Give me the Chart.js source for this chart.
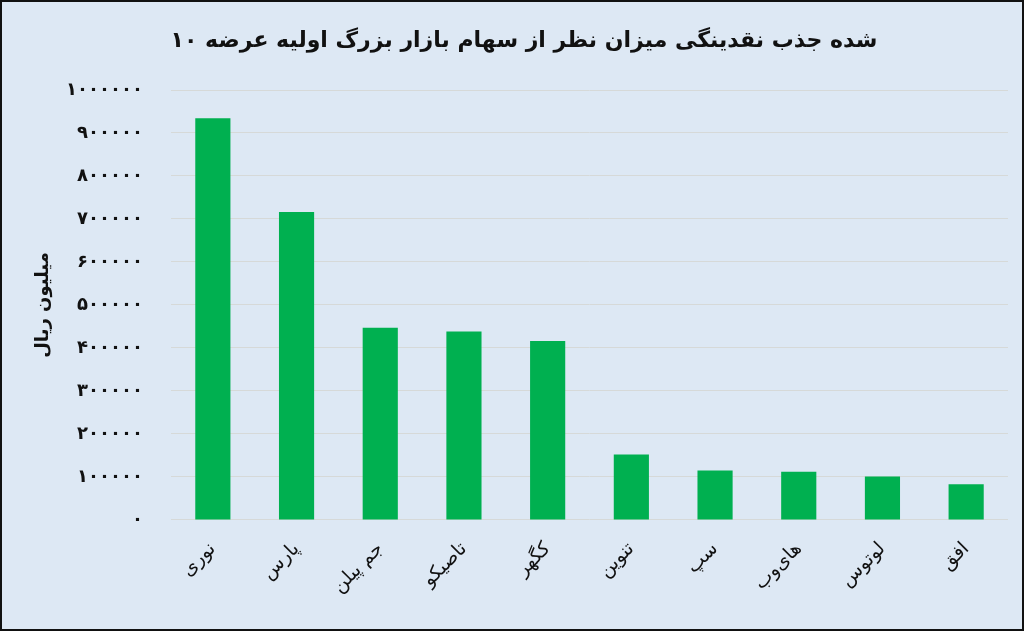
<!DOCTYPE html>
<html>
<head>
  <meta charset="utf-8">
  <title>۱۰ عرضه اولیه بزرگ</title>
  <script src="https://cdn.jsdelivr.net/npm/chart.js"></script>
<style>
html, body {
  margin: 0;
  padding: 0;
  background: #fff;
}
.frame {
  width: 1024px;
  height: 631px;
  box-sizing: border-box;
  border: 2px solid #111;
  background-color: #dde8f4;
  position: relative;
}
.chart-title {
  position: absolute;
  top: 22px;
  left: 24px;
  right: 0;
  text-align: center;
  font-family: 'DejaVu Sans', sans-serif;
  font-size: 22px;
  font-weight: bold;
  line-height: 32px;
  color: #111;
}
canvas {
  position: absolute;
  left: 0;
  top: 0;
}
</style>
</head>
<body>
<div class="frame">
  <canvas id="iposChart" width="1020" height="627"></canvas>
  <div class="chart-title" id="chartTitle" dir="ltr"></div>
</div>

<script>
// data (million rials)
const symbols = ['نوری', 'پارس', 'جم پیلن', 'تاصیکو', 'کگهر', 'تنوین', 'سپ', 'های‌وب', 'لوتوس', 'افق'];
const liquidity = [934000, 716000, 447000, 438000, 416000, 152000, 115000, 112000, 101000, 83000];
const yTicks = [0, 100000, 200000, 300000, 400000, 500000, 600000, 700000, 800000, 900000, 1000000];

// title words are laid out left to right in the original
const titleWords = ['۱۰', 'عرضه', 'اولیه', 'بزرگ', 'بازار', 'سهام', 'از', 'نظر', 'میزان', 'نقدینگی', 'جذب', 'شده'];
const axisTitle = 'میلیون ریال';

const faDigits = '۰۱۲۳۴۵۶۷۸۹';
function toFa(n) {
  return String(n).replace(/\d/g, d => faDigits[d]);
}

// each word isolated so they run left to right like the picture
const titleEl = document.getElementById('chartTitle');
titleWords.forEach((w, i) => {
  const b = document.createElement('bdi');
  b.textContent = w;
  titleEl.appendChild(b);
  if (i < titleWords.length - 1) titleEl.appendChild(document.createTextNode(' '));
});

const ctx = document.getElementById('iposChart');
new Chart(ctx, {
  type: 'bar',
  data: {
    labels: symbols,
    datasets: [{
      data: liquidity,
      backgroundColor: '#00b050',
      borderWidth: 0,
      barPercentage: 0.84,
      categoryPercentage: 0.5
    }]
  },
  options: {
    responsive: false,
    animation: false,
    layout: {
      padding: { left: 27, right: 14, top: 88, bottom: 21 }
    },
    plugins: {
      legend: { display: false },
      tooltip: { enabled: false },
      title: { display: false }
    },
    scales: {
      x: {
        grid: { display: false },
        border: { display: false },
        ticks: {
          color: '#111',
          maxRotation: 45,
          minRotation: 45,
          padding: 10,
          font: { family: 'DejaVu Sans', size: 19 }
        }
      },
      y: {
        min: 0,
        max: 1000000,
        afterBuildTicks: axis => {
          axis.ticks = yTicks.map(v => ({ value: v }));
        },
        afterFit: axis => {
          axis.width = 142;
        },
        grid: {
          color: '#d6d9d8',
          lineWidth: 1,
          drawTicks: false
        },
        border: { display: false },
        ticks: {
          color: '#111',
          padding: 28,
          font: { family: 'DejaVu Sans', size: 18, weight: 'bold' },
          callback: v => toFa(v)
        },
        title: {
          display: true,
          text: axisTitle,
          color: '#111',
          font: { family: 'DejaVu Sans', size: 18, weight: 'bold' },
          padding: { bottom: 0 }
        }
      }
    }
  }
});
</script>
</body>
</html>
